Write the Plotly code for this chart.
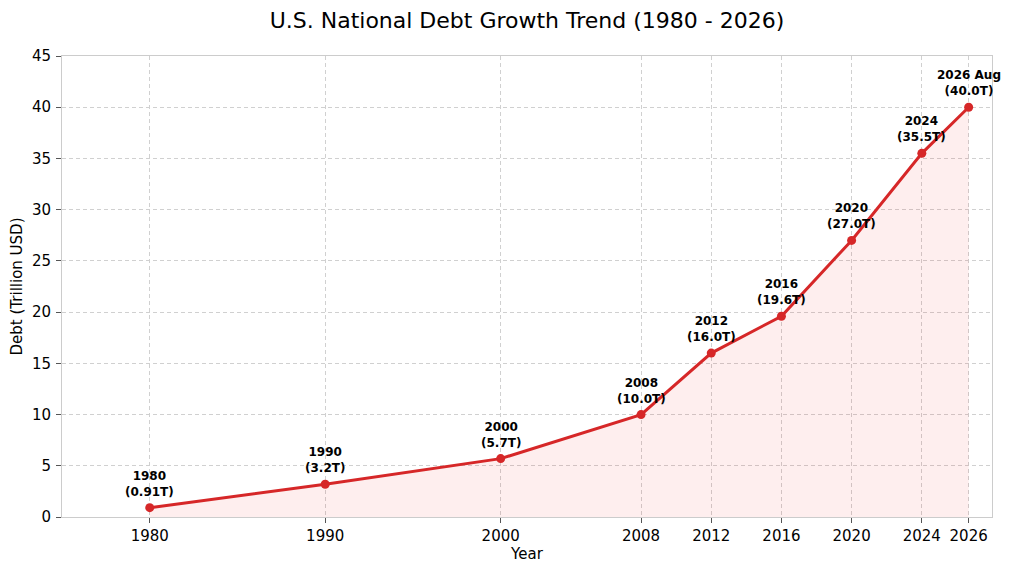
import plotly.graph_objects as go

# data
years = [1980, 1990, 2000, 2008, 2012, 2016, 2020, 2024, 2026.67]
debt = [0.91, 3.2, 5.7, 10.0, 16.0, 19.6, 27.0, 35.5, 40.0]
point_names = ["1980", "1990", "2000", "2008", "2012", "2016", "2020", "2024", "2026 Aug"]
tick_text = ["1980", "1990", "2000", "2008", "2012", "2016", "2020", "2024", "2026"]

red = "#d62728"
font = "DejaVu Sans"

fig = go.Figure()

fig.add_trace(go.Scatter(
    x=years, y=debt,
    mode="lines+markers",
    line=dict(color=red, width=3),
    marker=dict(color=red, size=9),
    fill="tozeroy",
    fillcolor="rgba(240,40,40,0.08)",
    hoverinfo="x+y",
    showlegend=False,
))

# labels above each point
for x, y, name in zip(years, debt, point_names):
    fig.add_annotation(
        x=x, y=y,
        text="<b>%s<br>(%sT)</b>" % (name, ("%.2f" % y if y < 1 else "%.1f" % y)),
        showarrow=False,
        yanchor="bottom",
        yshift=7,
        font=dict(family=font, size=12, color="black"),
    )

axis_common = dict(
    showgrid=True,
    gridcolor="#d0d0d0",
    griddash="4px,3px",
    gridwidth=1,
    showline=True,
    linecolor="#cccccc",
    linewidth=1,
    mirror=True,
    ticks="outside",
    ticklen=5,
    tickcolor="#555555",
    tickfont=dict(family=font, size=15, color="black"),
    zeroline=False,
    automargin=False,
)

fig.update_xaxes(
    range=[1975, 2028],
    tickvals=years,
    ticktext=tick_text,
    ticklabelstandoff=0,
    title=dict(text="Year", font=dict(family=font, size=15, color="black"), standoff=1),
    **axis_common,
)
fig.update_yaxes(
    range=[0, 45],
    dtick=5,
    ticklabelstandoff=2,
    title=dict(text="Debt (Trillion USD)", font=dict(family=font, size=15, color="black"), standoff=6),
    **axis_common,
)

# the page puts the plot 8px in from the top-left corner
fig.update_layout(
    width=1003, height=565,
    margin=dict(l=54, r=19, t=48, b=56),
    title=dict(
        text="U.S. National Debt Growth Trend (1980 - 2026)",
        x=0.5, xref="paper", xanchor="center",
        y=0.979, yref="container", yanchor="middle",
        font=dict(family=font, size=22, color="black"),
    ),
    plot_bgcolor="white",
    paper_bgcolor="white",
)

fig.write_html("out.html")
